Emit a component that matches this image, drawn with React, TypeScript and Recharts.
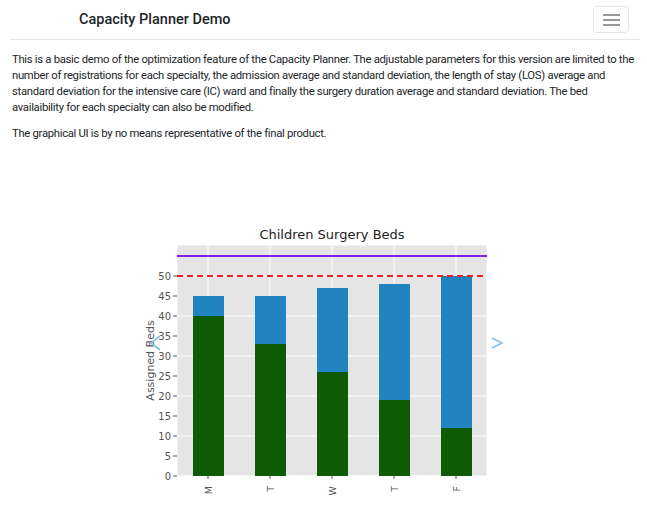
import React from 'react'
import {
  BarChart,
  Bar,
  XAxis,
  YAxis,
  CartesianGrid,
  ReferenceLine,
} from 'recharts'

const days = ['M', 'T', 'W', 'T', 'F']
const totalBeds = [45, 45, 47, 48, 50]
const assignedBeds = [40, 33, 26, 19, 12]
const yTicks = [0, 5, 10, 15, 20, 25, 30, 35, 40, 45, 50]
const capacityLimit = 50
const maxLimit = 55

const introLines = [
  'This is a basic demo of the optimization feature of the Capacity Planner. The adjustable parameters for this version are limited to the',
  'number of registrations for each specialty, the admission average and standard deviation, the length of stay (LOS) average and',
  'standard deviation for the intensive care (IC) ward and finally the surgery duration average and standard deviation. The bed',
  'availaibility for each specialty can also be modified.',
]

const chartData = days.map((d, i) => ({
  key: `${d}${i}`,
  day: d,
  assigned: assignedBeds[i],
  rest: totalBeds[i] - assignedBeds[i],
}))

const tickFont = 'DejaVu Sans, sans-serif'

const DayTick = ({ x, y, payload }: any) => {
  const label = days[payload.index] ?? ''
  return (
    <g transform={`translate(${x},${y + 5})`}>
      <text
        transform="rotate(-90)"
        textAnchor="end"
        dominantBaseline="central"
        fontFamily={tickFont}
        fontSize={9.5}
        fill="#555"
      >
        {label}
      </text>
    </g>
  )
}

const YLabel = ({ viewBox }: any) => {
  const cx = viewBox.x + 20
  const cy = viewBox.y + viewBox.height / 2
  return (
    <text
      x={cx}
      y={cy}
      transform={`rotate(-90, ${cx}, ${cy})`}
      textAnchor="middle"
      dominantBaseline="central"
      fontFamily={tickFont}
      fontSize={11}
      fill="#555"
    >
      Assigned Beds
    </text>
  )
}

const textStyle: React.CSSProperties = {
  position: 'absolute',
  left: 12,
  fontSize: 11.3,
  lineHeight: '16px',
  letterSpacing: -0.3,
  whiteSpace: 'nowrap',
}

export default function App() {
  return (
    <div style={{ position: 'absolute', left: 0, top: 0, width: 647, height: 517, background: '#fff', fontFamily: 'Roboto, sans-serif', color: '#212529' }}>
      {/* navbar */}
      <div style={{ position: 'absolute', left: 79, top: 11, fontSize: 14.5, fontWeight: 500 }}>Capacity Planner Demo</div>
      <div style={{ position: 'absolute', left: 593, top: 6, width: 36, height: 27, border: '1px solid #e6e6e6', borderRadius: 4, boxSizing: 'border-box' }}>
        {[7, 12, 17].map(t => (
          <div key={t} style={{ position: 'absolute', left: 9, top: t, width: 17, height: 1.5, background: '#999' }} />
        ))}
      </div>
      <div style={{ position: 'absolute', left: 10, top: 39, width: 630, height: 1, background: '#e6e6e6' }} />

      {/* intro text */}
      <div style={{ ...textStyle, top: 52 }}>
        {introLines.map((l, i) => <div key={i}>{l}</div>)}
      </div>
      <div style={{ ...textStyle, top: 126 }}>
        The graphical UI is by no means representative of the final product.
      </div>

      {/* chart */}
      <div style={{ position: 'absolute', left: 177, top: 227, width: 310, textAlign: 'center', fontFamily: tickFont, fontSize: 13, color: '#222' }}>
        Children Surgery Beds
      </div>
      <div style={{ position: 'absolute', left: 130, top: 220 }}>
        <BarChart
          width={380}
          height={280}
          data={chartData}
          margin={{ top: 25, right: 23, left: 0, bottom: 0 }}
          barCategoryGap={0}
        >
          <CartesianGrid fill="#e5e5e5" stroke="#ffffff" strokeWidth={1} />
          <XAxis
            dataKey="key"
            tick={<DayTick />}
            tickLine={{ stroke: '#555' }}
            tickSize={3}
            axisLine={false}
            height={24}
            interval={0}
          />
          <YAxis
            domain={[0, 57.75]}
            ticks={yTicks}
            tick={{ fontFamily: tickFont, fontSize: 10, fill: '#555' }}
            tickLine={{ stroke: '#555' }}
            tickSize={4}
            axisLine={false}
            width={47}
            label={<YLabel />}
          />
          <Bar dataKey="assigned" stackId="a" fill="#0e5a05" barSize={31} isAnimationActive={false} />
          <Bar dataKey="rest" stackId="a" fill="#2184c0" barSize={31} isAnimationActive={false} />
          <ReferenceLine y={capacityLimit} stroke="#f02020" strokeWidth={1.8} strokeDasharray="6 4" />
          <ReferenceLine y={maxLimit} stroke="#7b22e6" strokeWidth={2} />
        </BarChart>
      </div>

      {/* carousel controls */}
      <svg style={{ position: 'absolute', left: 148, top: 334 }} width={14} height={18}>
        <polyline points="12,2 3,9 12,16" fill="none" stroke="#7fc3e3" strokeWidth={1.6} />
      </svg>
      <svg style={{ position: 'absolute', left: 490, top: 334 }} width={14} height={18}>
        <polyline points="2,4 12,9 2,14" fill="none" stroke="#7fc3e3" strokeWidth={1.6} />
      </svg>
    </div>
  )
}
